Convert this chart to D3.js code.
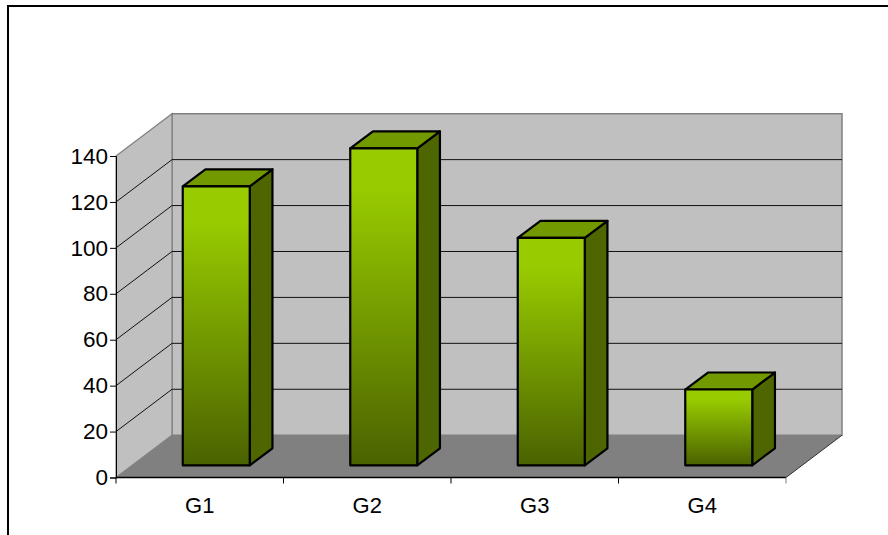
<!DOCTYPE html>
<html>
<head>
<meta charset="utf-8">
<script src="https://cdnjs.cloudflare.com/ajax/libs/d3/7.8.5/d3.min.js"></script>
<style>
html,body{margin:0;padding:0;background:#fff;overflow:hidden}
svg{display:block}
text{font-family:"Liberation Sans",Arial,sans-serif;fill:#000}
</style>
</head>
<body>
<script>
const categories = ["G1","G2","G3","G4"];
const seriesValues = [121.5,138,99,33];
const yTickValues = [0,20,40,60,80,100,120,140];

const W=888,H=535;
const x0=116,x1=786,yBase=477.5,yTop=156;
const dx=56,dy=42.3;          // chart depth
const bdx=22.7,bdy=17;        // bar depth
const offX=16.5,offY=12.2;    // bar offset into the floor

const x=d3.scaleBand().domain(categories).range([x0,x1]).paddingInner(0).paddingOuter(0);
const y=d3.scaleLinear().domain([0,140]).range([yBase,yTop]);
const barW=x.bandwidth()/2.5;

const svg=d3.select("body").append("svg").attr("width",W).attr("height",H);
const defs=svg.append("defs");
const grad=defs.append("linearGradient").attr("id","barGrad")
  .attr("x1",0).attr("y1",0).attr("x2",0).attr("y2",1);
grad.append("stop").attr("offset","0%").attr("stop-color","#99CC00");
grad.append("stop").attr("offset","12%").attr("stop-color","#99CC00");
grad.append("stop").attr("offset","100%").attr("stop-color","#4A6200");

// frame
svg.append("path").attr("d",`M8,${H}V6H${W}`).attr("fill","none").attr("stroke","#000").attr("stroke-width",2);

const line=d3.line();
const poly=p=>line(p)+"Z";

// walls
svg.append("path").attr("d",poly([[x0+dx,yTop-dy],[x1+dx,yTop-dy],[x1+dx,yBase-dy],[x0+dx,yBase-dy]]))
  .attr("fill","#C0C0C0").attr("stroke","#808080").attr("stroke-width",1.5);
svg.append("path").attr("d",poly([[x0,yTop],[x0+dx,yTop-dy],[x0+dx,yBase-dy],[x0,yBase]]))
  .attr("fill","#C0C0C0").attr("stroke","#808080").attr("stroke-width",1.2);
svg.append("path").attr("d",poly([[x0,yBase],[x0+dx,yBase-dy],[x1+dx,yBase-dy],[x1,yBase]]))
  .attr("fill","#808080");

// grid
const inner=yTickValues.filter(v=>v>0&&v<140);
svg.append("g").selectAll("path").data(inner).join("path")
  .attr("d",v=>line([[x0,y(v)],[x0+dx,y(v)-dy],[x1+dx,y(v)-dy]]))
  .attr("fill","none").attr("stroke","#111").attr("stroke-width",1);
svg.append("path").attr("d",line([[x1,yBase],[x1+dx,yBase-dy]]))
  .attr("fill","none").attr("stroke","#333").attr("stroke-width",1);

// axes
const yAxis=d3.axisLeft(y).tickValues(yTickValues).tickSize(6).tickPadding(2);
const gy=svg.append("g").attr("transform",`translate(${x0},0)`).call(yAxis);
gy.select(".domain").attr("stroke","#000").attr("stroke-width",1);
gy.selectAll("text").attr("font-size",22.5);
gy.selectAll("line").attr("stroke","#000");

const gx=svg.append("g").attr("transform",`translate(0,${yBase})`)
  .call(d3.axisBottom(x).tickSize(0).tickPadding(20));
gx.select(".domain").attr("stroke","#000").attr("stroke-width",1.5).attr("d",`M${x0},0H${x1}`);
gx.selectAll("text").attr("font-size",22);
gx.selectAll(".sep").data(d3.range(categories.length+1)).join("line").attr("class","sep")
  .attr("x1",i=>x0+i*x.step()).attr("x2",i=>x0+i*x.step()).attr("y1",0).attr("y2",6)
  .attr("stroke",(i)=>i===categories.length?"#808080":"#000");

// bars
const bars=svg.append("g").selectAll("g").data(categories.map((c,i)=>({c,v:seriesValues[i]}))).join("g");
const bx=d=>x(d.c)+(x.bandwidth()-barW)/2+offX;
const byTop=d=>y(d.v)-offY, byBot=()=>y(0)-offY;
const st=g=>g.attr("stroke","#000").attr("stroke-width",2.2).attr("stroke-linejoin","round");
bars.append("path").call(st).attr("fill","#4D6600")
  .attr("d",d=>poly([[bx(d)+barW,byTop(d)],[bx(d)+barW+bdx,byTop(d)-bdy],[bx(d)+barW+bdx,byBot()-bdy],[bx(d)+barW,byBot()]]));
bars.append("path").call(st).attr("fill","#739900")
  .attr("d",d=>poly([[bx(d),byTop(d)],[bx(d)+bdx,byTop(d)-bdy],[bx(d)+barW+bdx,byTop(d)-bdy],[bx(d)+barW,byTop(d)]]));
bars.append("rect").call(st).attr("fill","url(#barGrad)")
  .attr("x",bx).attr("y",byTop).attr("width",barW).attr("height",d=>byBot()-byTop(d));
</script>
</body>
</html>
